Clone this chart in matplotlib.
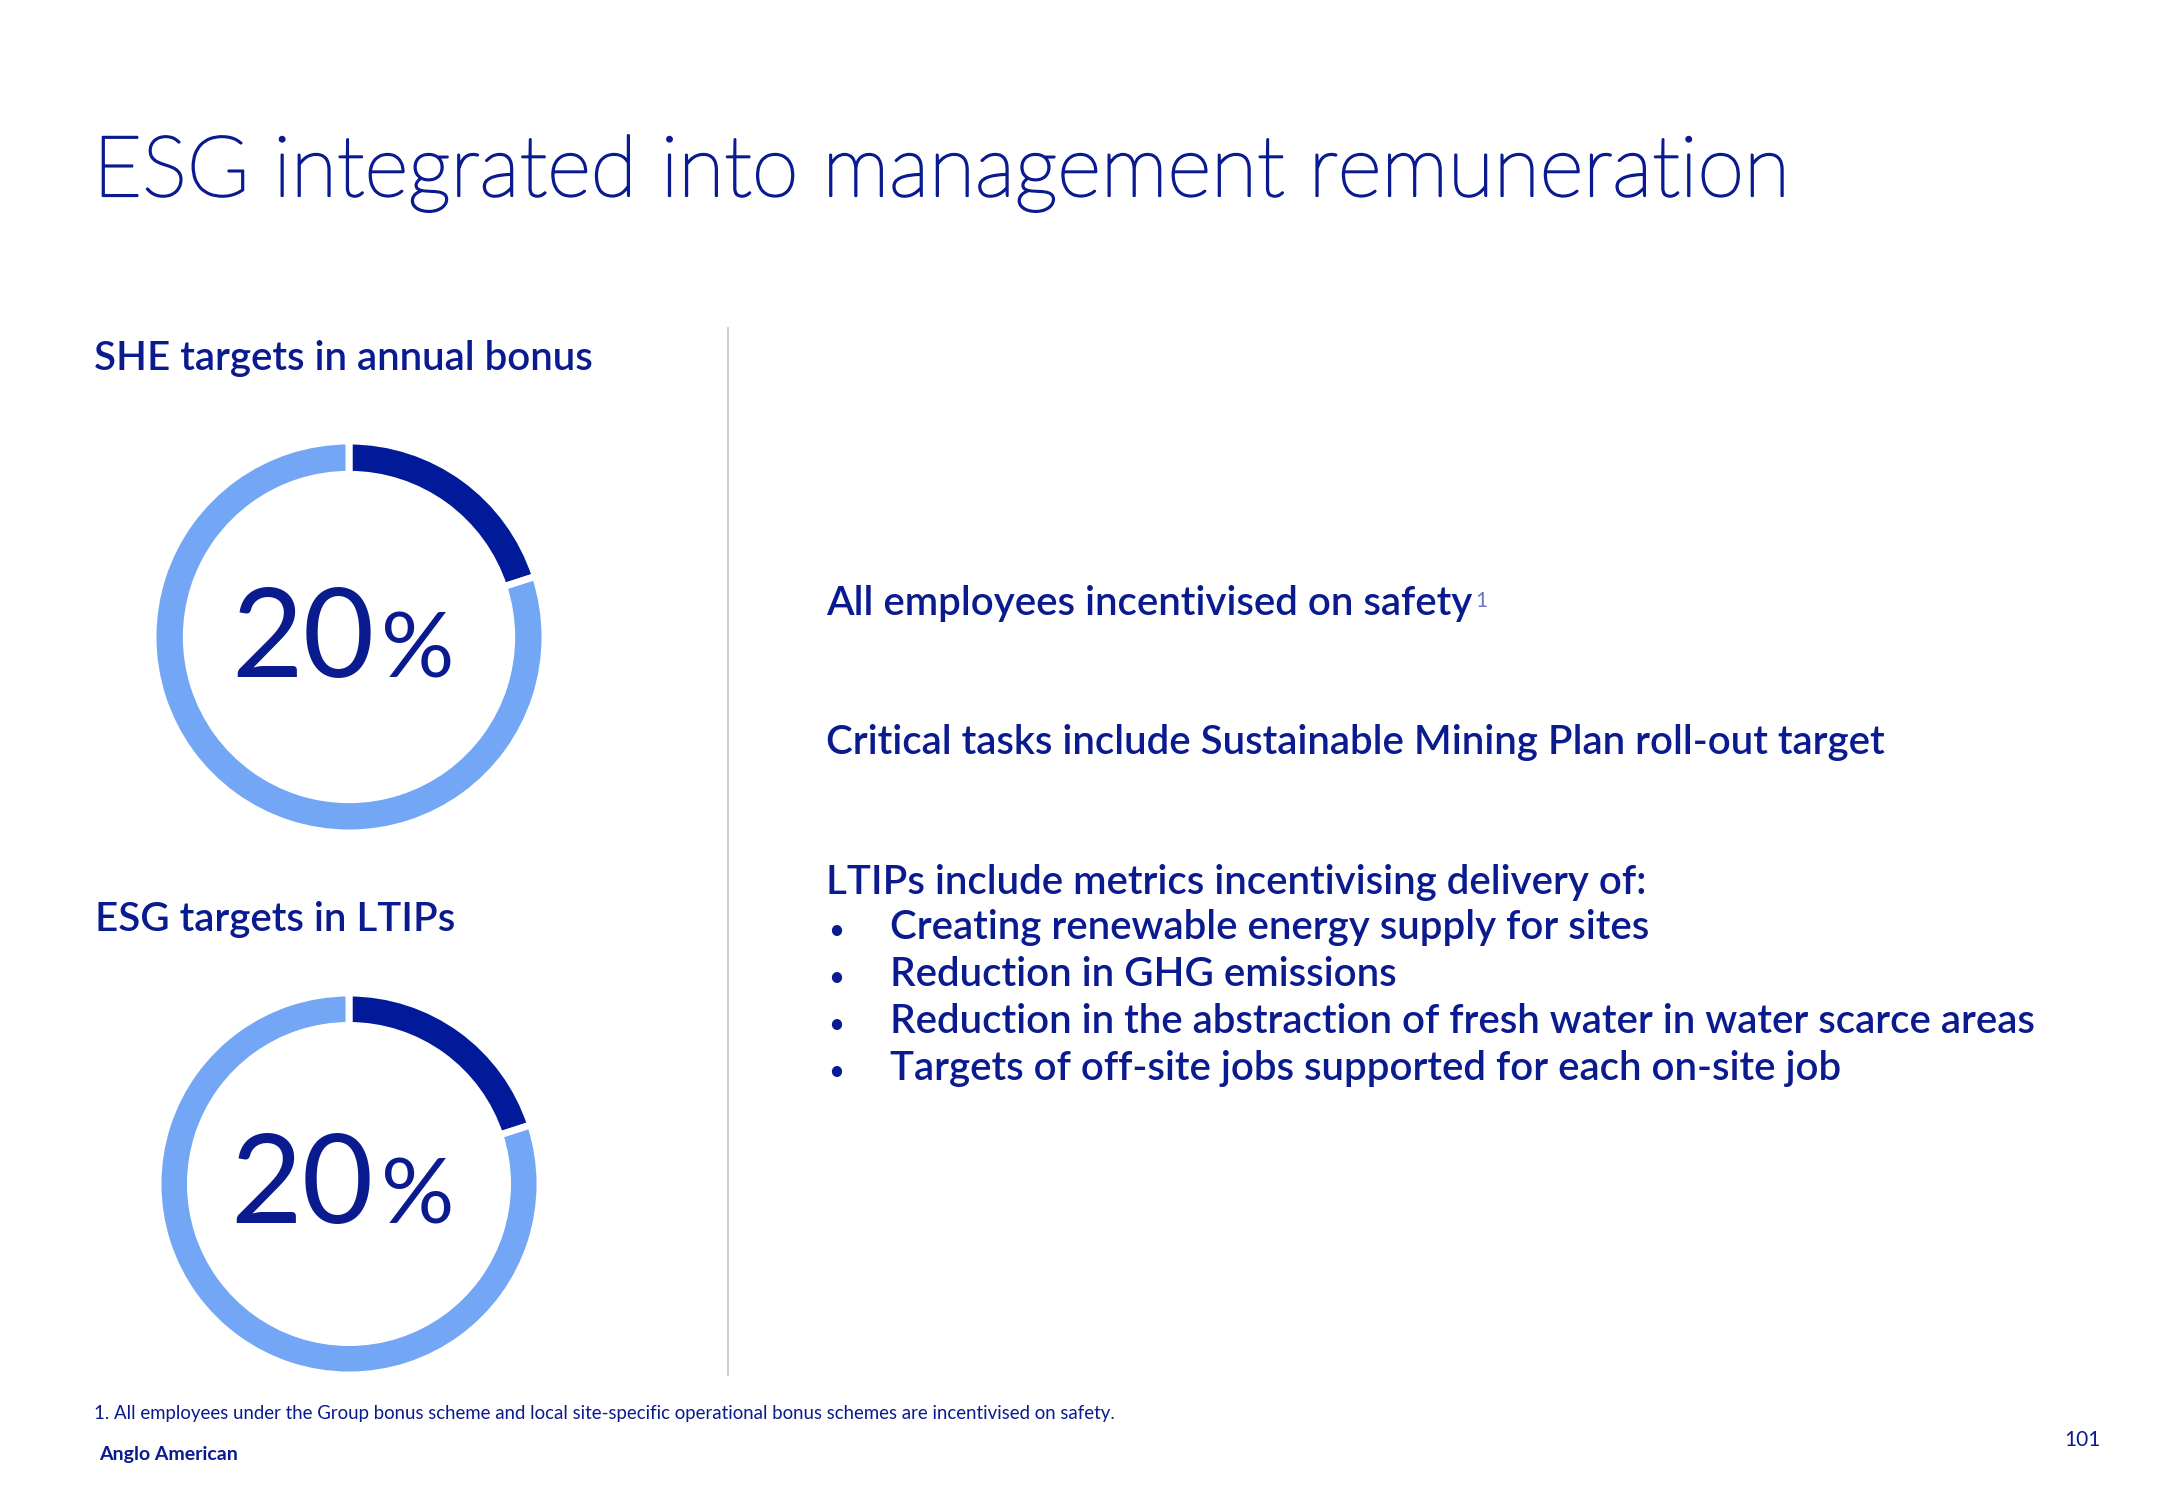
import matplotlib
matplotlib.use("Agg")
import matplotlib.pyplot as plt
from matplotlib.lines import Line2D
import matplotlib.patheffects as pe

# ---- data ----
title = "ESG integrated into management remuneration"
donut_titles = ["SHE targets in annual bonus", "ESG targets in LTIPs"]
esg_share = [20, 20]          # percent of each scheme tied to ESG targets
statements = ["All employees incentivised on safety",
              "Critical tasks include Sustainable Mining Plan roll-out target",
              "LTIPs include metrics incentivising delivery of:"]
bullets = ["Creating renewable energy supply for sites",
           "Reduction in GHG emissions",
           "Reduction in the abstraction of fresh water in water scarce areas",
           "Targets of off-site jobs supported for each on-site job"]
footnote = "1. All employees under the Group bonus scheme and local site-specific operational bonus schemes are incentivised on safety."
brand = "Anglo American"
page = "101"

# ---- style ----
NAVY = "#0A1A8F"
DARK = "#001A9A"
LIGHT = "#74A6F6"
FONT = "Lato"

W, H = 2166, 1500
fig = plt.figure(figsize=(W / 100, H / 100), dpi=100)
fig.patch.set_facecolor("white")
bg = fig.add_axes([0, 0, 1, 1])
bg.set_xlim(0, W)
bg.set_ylim(H, 0)
bg.axis("off")

def txt(x, y, s, size, weight="normal", color=NAVY, **kw):
    return bg.text(x, y, s, fontsize=size, fontweight=weight, color=color,
                   family=[FONT, "DejaVu Sans"], va="baseline", **kw)

t = txt(93, 196, title, 60.8, weight="light")
t.set_path_effects([pe.withStroke(linewidth=1.6, foreground=NAVY)])
txt(94, 370, donut_titles[0], 29, weight="semibold")
txt(95, 931, donut_titles[1], 29, weight="semibold")

# divider
bg.add_line(Line2D([728, 728], [328, 1375], color="#C4C4C4", lw=1.2))

# donuts
centers = [(349, 637, 196), (349, 1184, 191)]
for (cx, cy, r), val in zip(centers, esg_share):
    ax = fig.add_axes([(cx - r) / W, 1 - (cy + r) / H, 2 * r / W, 2 * r / H])
    ax.pie([val, 100 - val], colors=[DARK, LIGHT], startangle=90,
           counterclock=False, radius=1,
           wedgeprops=dict(width=0.17, edgecolor="white", linewidth=5))
    ax.set_aspect("equal")
    ax.set_xlim(-1, 1)
    ax.set_ylim(-1, 1)
    ax.axis("off")
    ax.text(0.13, -0.205, f"{val}", fontsize=89, color=NAVY, ha="right",
            va="baseline", family=[FONT, "DejaVu Sans"], transform=ax.transData)
    ax.text(0.165, -0.205, "%", fontsize=66, color=NAVY, ha="left",
            va="baseline", family=[FONT, "DejaVu Sans"], transform=ax.transData)

# right column
s0 = txt(826, 615, statements[0], 29, weight="semibold")
bg.annotate("1", xy=(1, 0), xycoords=s0, xytext=(2, 11), textcoords="offset points",
            fontsize=15, color="#6B78C0", family=[FONT, "DejaVu Sans"],
            va="baseline", ha="left")
txt(826, 754, statements[1], 29, weight="semibold")
txt(826, 894, statements[2], 29, weight="semibold")
for i, b in enumerate(bullets):
    y = 939 + i * 47
    txt(828, y, "\u2022", 20)
    txt(890, y, b, 29, weight="semibold")

txt(94, 1419, footnote, 13.4)
txt(99, 1460, brand, 14, weight="bold")
txt(2064, 1446, page, 15)

fig.savefig("out.png", dpi=100, facecolor="white")
